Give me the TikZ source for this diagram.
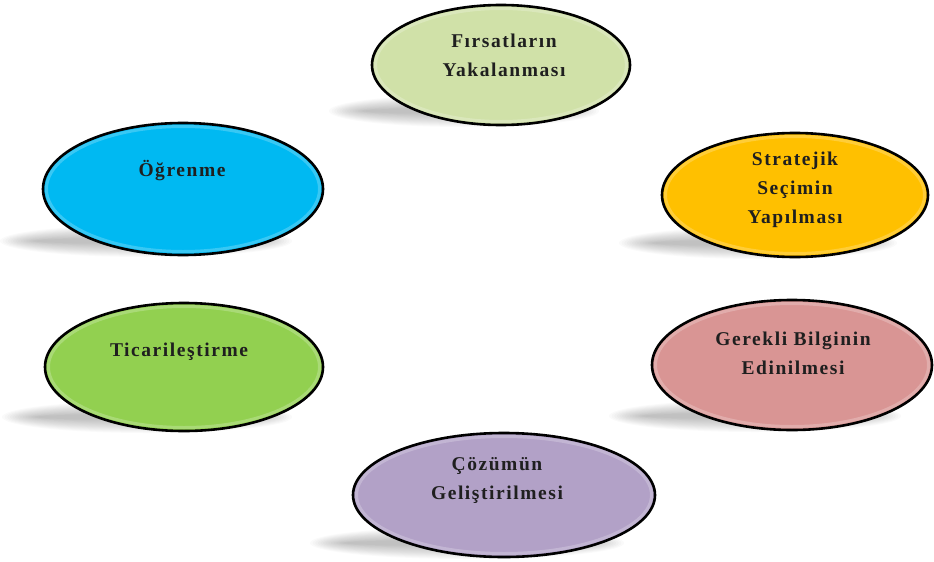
\documentclass[tikz,border=0pt]{standalone}
\usepackage{fontspec}
\setmainfont{Liberation Serif}
\newfontfamily\lblfont[LetterSpace=8]{Liberation Serif}
\usetikzlibrary{shapes.geometric}
\definecolor{cTop}{HTML}{D0E1A8}
\definecolor{cLearn}{HTML}{00B9F2}
\definecolor{cStrat}{HTML}{FFC000}
\definecolor{cInfo}{HTML}{D99594}
\definecolor{cTrade}{HTML}{92D050}
\definecolor{cSol}{HTML}{B2A1C7}
\definecolor{txt}{HTML}{1F1F1F}
\tikzset{
  bubble/.style={ellipse, draw=black, line width=2.6pt, inner sep=0pt},
  lbl/.style={align=center, font=\lblfont\bfseries\fontsize{19.5pt}{29pt}\selectfont, text=txt, inner sep=0pt},
  rim/.style={draw=white, draw opacity=0.22, line width=3pt}
}
\newcommand\mybubble[6]{%
  % #1 name, #2 cx, #3 cy, #4 rx, #5 ry, #6 colour
  \foreach \k in {0,...,13}{%
    \pgfmathsetmacro\srx{#4+6-2.6*\k}%
    \pgfmathsetmacro\sry{16-1.0*\k}%
    \fill[black, opacity=0.021] ({#2-37},{#3+#5-14}) ellipse [x radius=\srx pt, y radius=\sry pt];
  }
  \node[bubble, fill=#6, minimum width={2*#4 pt}, minimum height={2*#5 pt}] (#1) at (#2,#3) {};
  \draw[rim] (#1.center) ellipse [x radius={(#4-3.5)*1pt}, y radius={(#5-3.5)*1pt}];
}
\begin{document}
\begin{tikzpicture}[x=1pt, y=-1pt]
\useasboundingbox (0,0) rectangle (934,562);
\mybubble{firsat}{501}{65}{129}{60}{cTop}
\mybubble{ogren}{183}{189}{140}{66}{cLearn}
\mybubble{strat}{795}{195}{133}{62}{cStrat}
\mybubble{bilgi}{792}{365}{140}{65}{cInfo}
\mybubble{ticari}{184}{367}{139}{64}{cTrade}
\mybubble{cozum}{504}{495}{151}{62}{cSol}

\node[lbl] (tfirsat) at (504,55) {Fırsatların\\Yakalanması};
\node[lbl] (togren) at (182,171) {Öğrenme};
\node[lbl] (tstrat) at (795,190) {Stratejik\\Seçimin\\Yapılması};
\node[lbl] (tbilgi) at (793,353) {Gerekli Bilginin\\Edinilmesi};
\node[lbl] (tticari) at (179,352) {Ticarileştirme};
\node[lbl] (tcozum) at (497,480) {Çözümün\\Geliştirilmesi};
\end{tikzpicture}
\end{document}
